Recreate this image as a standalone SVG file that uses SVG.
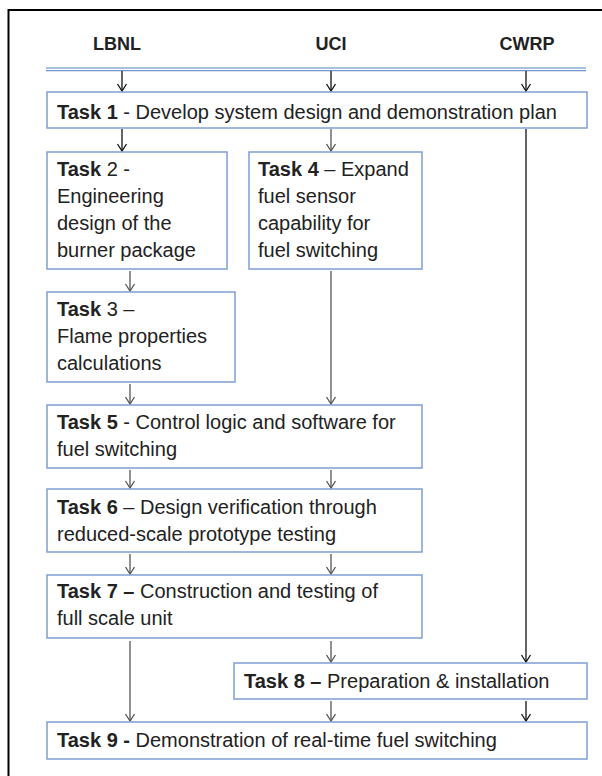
<svg xmlns="http://www.w3.org/2000/svg" width="602" height="776" viewBox="0 0 602 776">
<style>
.box{fill:#fff;stroke:#7f9fd3;stroke-width:1.5}
.t{font-family:"Liberation Sans",Arial,sans-serif;font-size:20px;fill:#222}
.b{font-weight:bold}
.h{font-family:"Liberation Sans",Arial,sans-serif;font-size:18px;font-weight:bold;fill:#222;text-anchor:middle}
.ck{fill:none;stroke:#111;stroke-width:1.3}
.cg{fill:none;stroke:#555;stroke-width:1.3}
</style>
<defs>
<marker id="ak" markerUnits="userSpaceOnUse" viewBox="-8 -6 10 12" markerWidth="10" markerHeight="12" refX="0" refY="0" orient="auto" overflow="visible">
<path d="M-7,-4.5 L0,0 L-7,4.5" fill="none" stroke="#111" stroke-width="1.3"/>
</marker>
<marker id="ag" markerUnits="userSpaceOnUse" viewBox="-8 -6 10 12" markerWidth="10" markerHeight="12" refX="0" refY="0" orient="auto" overflow="visible">
<path d="M-7,-4.5 L0,0 L-7,4.5" fill="none" stroke="#555" stroke-width="1.3"/>
</marker>
</defs>
<rect x="0" y="0" width="602" height="776" fill="#fff"/>
<rect x="8.5" y="10" width="640" height="800" fill="none" stroke="#000" stroke-width="2"/>
<g id="headers">
<text class="h" x="117" y="50">LBNL</text>
<text class="h" x="331" y="50">UCI</text>
<text class="h" x="527" y="50">CWRP</text>
<line x1="46" y1="68" x2="586" y2="68" stroke="#4f81bd" stroke-width="1.2"/>
<line x1="46" y1="70.6" x2="586" y2="70.6" stroke="#6f95cc" stroke-width="1.2"/>
</g>
<g id="connectors">
<line class="ck" x1="122" y1="71" x2="122" y2="91" marker-end="url(#ak)"/>
<line class="ck" x1="331" y1="71" x2="331" y2="91" marker-end="url(#ak)"/>
<line class="ck" x1="526" y1="71" x2="526" y2="91" marker-end="url(#ak)"/>
<line class="ck" x1="122" y1="129" x2="122" y2="151" marker-end="url(#ak)"/>
<line class="cg" x1="331" y1="129" x2="331" y2="151" marker-end="url(#ag)"/>
<line class="ck" x1="526" y1="129" x2="526" y2="662" marker-end="url(#ak)"/>
<line class="cg" x1="130" y1="271" x2="130" y2="291" marker-end="url(#ag)"/>
<line class="cg" x1="331" y1="271" x2="331" y2="404" marker-end="url(#ag)"/>
<line class="cg" x1="130" y1="384" x2="130" y2="404" marker-end="url(#ag)"/>
<line class="cg" x1="130" y1="470" x2="130" y2="488" marker-end="url(#ag)"/>
<line class="cg" x1="331" y1="470" x2="331" y2="488" marker-end="url(#ag)"/>
<line class="cg" x1="130" y1="554" x2="130" y2="574" marker-end="url(#ag)"/>
<line class="cg" x1="331" y1="554" x2="331" y2="574" marker-end="url(#ag)"/>
<line class="cg" x1="130" y1="641" x2="130" y2="721" marker-end="url(#ag)"/>
<line class="cg" x1="331" y1="641" x2="331" y2="662" marker-end="url(#ag)"/>
<line class="cg" x1="331" y1="701" x2="331" y2="721" marker-end="url(#ag)"/>
<line class="ck" x1="526" y1="701" x2="526" y2="721" marker-end="url(#ak)"/>
</g>
<g id="task1">
<rect class="box" x="47" y="92" width="540" height="36"/>
<text class="t" x="57" y="119"><tspan class="b">Task 1</tspan> - Develop system design and demonstration plan</text>
</g>
<g id="task2">
<rect class="box" x="47" y="152" width="180" height="117"/>
<text class="t" x="57" y="176"><tspan class="b">Task</tspan> 2 -</text>
<text class="t" x="57" y="203">Engineering</text>
<text class="t" x="57" y="230">design of the</text>
<text class="t" x="57" y="257">burner package</text>
</g>
<g id="task4">
<rect class="box" x="249" y="152" width="173" height="117"/>
<text class="t" x="258" y="176"><tspan class="b">Task 4</tspan> – Expand</text>
<text class="t" x="258" y="203">fuel sensor</text>
<text class="t" x="258" y="230">capability  for</text>
<text class="t" x="258" y="257">fuel switching</text>
</g>
<g id="task3">
<rect class="box" x="47" y="292" width="188" height="90"/>
<text class="t" x="57" y="316"><tspan class="b">Task</tspan> 3 –</text>
<text class="t" x="57" y="343">Flame properties</text>
<text class="t" x="57" y="370">calculations</text>
</g>
<g id="task5">
<rect class="box" x="47" y="405" width="375" height="63"/>
<text class="t" x="57" y="429"><tspan class="b">Task 5</tspan> - Control logic and software for</text>
<text class="t" x="57" y="456">fuel switching</text>
</g>
<g id="task6">
<rect class="box" x="47" y="489" width="375" height="63"/>
<text class="t" x="57" y="514"><tspan class="b">Task 6</tspan> – Design verification through</text>
<text class="t" x="57" y="541">reduced-scale prototype testing</text>
</g>
<g id="task7">
<rect class="box" x="47" y="575" width="375" height="63"/>
<text class="t" x="57" y="598"><tspan class="b">Task 7 –</tspan> Construction and testing of</text>
<text class="t" x="57" y="625">full scale unit</text>
</g>
<g id="task8">
<rect class="box" x="234" y="663" width="353" height="36"/>
<text class="t" x="244" y="688"><tspan class="b">Task 8 –</tspan> Preparation &amp; installation</text>
</g>
<g id="task9">
<rect class="box" x="47" y="722" width="540" height="37"/>
<text class="t" x="57" y="747"><tspan class="b">Task 9 -</tspan> Demonstration of real-time fuel switching</text>
</g>
</svg>
